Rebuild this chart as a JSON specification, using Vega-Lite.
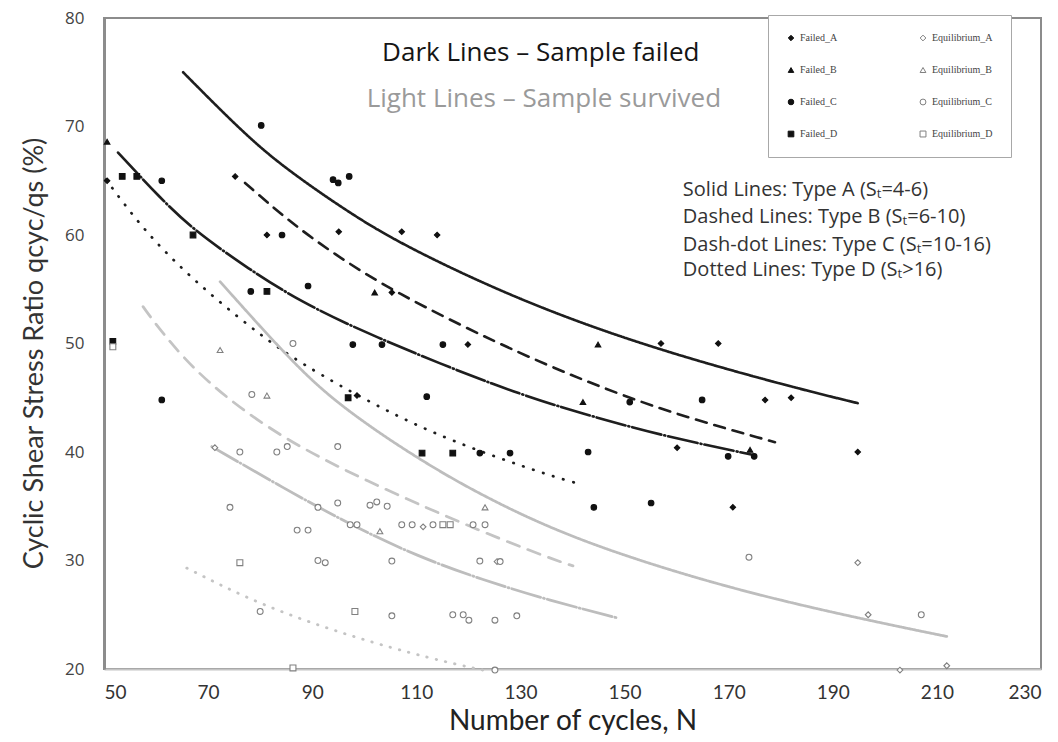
{
  "$schema": "https://vega.github.io/schema/vega-lite/v6.json",
  "autosize": "none",
  "width": 937,
  "height": 651,
  "padding": {"left": 104, "top": 18, "right": 17, "bottom": 73},
  "background": "white",
  "config": {
    "view": {"stroke": "#8c8c8c", "strokeWidth": 2},
    "axis": {"grid": false, "ticks": false, "titleFontWeight": "normal"}
  },
  "datasets": {
    "curves": [
      {"curve": "A_dark", "N": 65.2, "r": 75.0},
      {"curve": "A_dark", "N": 72.0, "r": 71.7},
      {"curve": "A_dark", "N": 80.0, "r": 68.0},
      {"curve": "A_dark", "N": 87.6, "r": 65.2},
      {"curve": "A_dark", "N": 97.3, "r": 62.0},
      {"curve": "A_dark", "N": 106.9, "r": 59.2},
      {"curve": "A_dark", "N": 126.0, "r": 54.8},
      {"curve": "A_dark", "N": 145.3, "r": 51.2},
      {"curve": "A_dark", "N": 164.5, "r": 48.3},
      {"curve": "A_dark", "N": 183.7, "r": 45.8},
      {"curve": "A_dark", "N": 194.8, "r": 44.5},
      {"curve": "B_dark", "N": 77.1, "r": 64.8},
      {"curve": "B_dark", "N": 85.2, "r": 61.4},
      {"curve": "B_dark", "N": 94.0, "r": 58.3},
      {"curve": "B_dark", "N": 105.5, "r": 54.8},
      {"curve": "B_dark", "N": 126.0, "r": 49.9},
      {"curve": "B_dark", "N": 142.0, "r": 46.6},
      {"curve": "B_dark", "N": 158.1, "r": 43.7},
      {"curve": "B_dark", "N": 178.9, "r": 40.9},
      {"curve": "C_dark", "N": 52.7, "r": 67.6},
      {"curve": "C_dark", "N": 60.8, "r": 63.4},
      {"curve": "C_dark", "N": 67.1, "r": 60.5},
      {"curve": "C_dark", "N": 78.0, "r": 56.8},
      {"curve": "C_dark", "N": 87.6, "r": 53.9},
      {"curve": "C_dark", "N": 100.5, "r": 50.9},
      {"curve": "C_dark", "N": 126.0, "r": 45.9},
      {"curve": "C_dark", "N": 142.0, "r": 43.5},
      {"curve": "C_dark", "N": 158.1, "r": 41.4},
      {"curve": "C_dark", "N": 175.0, "r": 39.7},
      {"curve": "D_dark", "N": 50.4, "r": 65.1},
      {"curve": "D_dark", "N": 56.9, "r": 60.9},
      {"curve": "D_dark", "N": 64.0, "r": 57.3},
      {"curve": "D_dark", "N": 71.7, "r": 54.0},
      {"curve": "D_dark", "N": 80.0, "r": 50.8},
      {"curve": "D_dark", "N": 87.6, "r": 48.2},
      {"curve": "D_dark", "N": 102.4, "r": 44.2},
      {"curve": "D_dark", "N": 116.5, "r": 41.0},
      {"curve": "D_dark", "N": 135.7, "r": 37.8},
      {"curve": "D_dark", "N": 141.8, "r": 37.0},
      {"curve": "B_light", "N": 57.5, "r": 53.4},
      {"curve": "B_light", "N": 60.8, "r": 51.2},
      {"curve": "B_light", "N": 69.0, "r": 46.6},
      {"curve": "B_light", "N": 84.4, "r": 41.1},
      {"curve": "B_light", "N": 103.6, "r": 36.6},
      {"curve": "B_light", "N": 122.8, "r": 32.6},
      {"curve": "B_light", "N": 135.7, "r": 30.2},
      {"curve": "B_light", "N": 140.1, "r": 29.5},
      {"curve": "A_light", "N": 72.3, "r": 55.7},
      {"curve": "A_light", "N": 85.7, "r": 48.5},
      {"curve": "A_light", "N": 94.8, "r": 44.4},
      {"curve": "A_light", "N": 110.1, "r": 39.4},
      {"curve": "A_light", "N": 124.0, "r": 35.6},
      {"curve": "A_light", "N": 142.0, "r": 31.6},
      {"curve": "A_light", "N": 170.8, "r": 27.3},
      {"curve": "A_light", "N": 196.6, "r": 24.5},
      {"curve": "A_light", "N": 211.9, "r": 23.0},
      {"curve": "C_light", "N": 70.7, "r": 40.5},
      {"curve": "C_light", "N": 84.4, "r": 36.7},
      {"curve": "C_light", "N": 97.3, "r": 33.3},
      {"curve": "C_light", "N": 110.1, "r": 30.4},
      {"curve": "C_light", "N": 122.8, "r": 28.2},
      {"curve": "C_light", "N": 135.7, "r": 26.3},
      {"curve": "C_light", "N": 148.7, "r": 24.7},
      {"curve": "D_light", "N": 65.9, "r": 29.3},
      {"curve": "D_light", "N": 80.0, "r": 25.9},
      {"curve": "D_light", "N": 97.3, "r": 23.0},
      {"curve": "D_light", "N": 113.2, "r": 20.9},
      {"curve": "D_light", "N": 122.8, "r": 19.9}
    ],
    "pts": [
      {"series": "Failed_B", "N": 50.6, "r": 68.6},
      {"series": "Failed_B", "N": 102.0, "r": 54.7},
      {"series": "Failed_B", "N": 144.9, "r": 49.9},
      {"series": "Failed_B", "N": 142.0, "r": 44.6},
      {"series": "Failed_B", "N": 174.1, "r": 40.2},
      {"series": "Failed_D", "N": 53.5, "r": 65.4},
      {"series": "Failed_D", "N": 56.3, "r": 65.4},
      {"series": "Failed_D", "N": 67.1, "r": 60.0},
      {"series": "Failed_D", "N": 81.3, "r": 54.8},
      {"series": "Failed_D", "N": 51.7, "r": 50.2},
      {"series": "Failed_D", "N": 96.9, "r": 45.0},
      {"series": "Failed_D", "N": 111.1, "r": 39.9},
      {"series": "Failed_D", "N": 117.0, "r": 39.9},
      {"series": "Failed_C", "N": 61.1, "r": 65.0},
      {"series": "Failed_C", "N": 80.2, "r": 70.1},
      {"series": "Failed_C", "N": 94.0, "r": 65.1},
      {"series": "Failed_C", "N": 95.0, "r": 64.8},
      {"series": "Failed_C", "N": 97.1, "r": 65.4},
      {"series": "Failed_C", "N": 84.2, "r": 60.0},
      {"series": "Failed_C", "N": 78.2, "r": 54.8},
      {"series": "Failed_C", "N": 89.2, "r": 55.3},
      {"series": "Failed_C", "N": 97.8, "r": 49.9},
      {"series": "Failed_C", "N": 103.4, "r": 49.9},
      {"series": "Failed_C", "N": 115.1, "r": 49.9},
      {"series": "Failed_C", "N": 61.1, "r": 44.8},
      {"series": "Failed_C", "N": 112.0, "r": 45.1},
      {"series": "Failed_C", "N": 122.2, "r": 39.9},
      {"series": "Failed_C", "N": 128.0, "r": 39.9},
      {"series": "Failed_C", "N": 143.0, "r": 40.0},
      {"series": "Failed_C", "N": 144.1, "r": 34.9},
      {"series": "Failed_C", "N": 155.1, "r": 35.3},
      {"series": "Failed_C", "N": 151.0, "r": 44.6},
      {"series": "Failed_C", "N": 164.9, "r": 44.8},
      {"series": "Failed_C", "N": 169.9, "r": 39.6},
      {"series": "Failed_C", "N": 174.9, "r": 39.6},
      {"series": "Failed_A", "N": 50.6, "r": 65.0},
      {"series": "Failed_A", "N": 75.2, "r": 65.4},
      {"series": "Failed_A", "N": 81.3, "r": 60.0},
      {"series": "Failed_A", "N": 95.1, "r": 60.3},
      {"series": "Failed_A", "N": 107.2, "r": 60.3},
      {"series": "Failed_A", "N": 114.0, "r": 60.0},
      {"series": "Failed_A", "N": 105.3, "r": 54.7},
      {"series": "Failed_A", "N": 119.9, "r": 49.9},
      {"series": "Failed_A", "N": 157.0, "r": 50.0},
      {"series": "Failed_A", "N": 168.0, "r": 50.0},
      {"series": "Failed_A", "N": 177.0, "r": 44.8},
      {"series": "Failed_A", "N": 182.0, "r": 45.0},
      {"series": "Failed_A", "N": 160.1, "r": 40.4},
      {"series": "Failed_A", "N": 194.8, "r": 40.0},
      {"series": "Failed_A", "N": 170.8, "r": 34.9},
      {"series": "Failed_A", "N": 98.6, "r": 45.2},
      {"series": "Equilibrium_A", "N": 71.3, "r": 40.4},
      {"series": "Equilibrium_A", "N": 194.8, "r": 29.8},
      {"series": "Equilibrium_A", "N": 196.8, "r": 25.0},
      {"series": "Equilibrium_A", "N": 202.9, "r": 19.9},
      {"series": "Equilibrium_A", "N": 211.9, "r": 20.3},
      {"series": "Equilibrium_A", "N": 111.3, "r": 33.1},
      {"series": "Equilibrium_A", "N": 125.5, "r": 29.9},
      {"series": "Equilibrium_B", "N": 72.3, "r": 49.4},
      {"series": "Equilibrium_B", "N": 81.3, "r": 45.2},
      {"series": "Equilibrium_B", "N": 103.0, "r": 32.7},
      {"series": "Equilibrium_B", "N": 123.2, "r": 34.9},
      {"series": "Equilibrium_C", "N": 86.3, "r": 50.0},
      {"series": "Equilibrium_C", "N": 78.4, "r": 45.3},
      {"series": "Equilibrium_C", "N": 76.1, "r": 40.0},
      {"series": "Equilibrium_C", "N": 83.2, "r": 40.0},
      {"series": "Equilibrium_C", "N": 85.2, "r": 40.5},
      {"series": "Equilibrium_C", "N": 94.9, "r": 40.5},
      {"series": "Equilibrium_C", "N": 74.2, "r": 34.9},
      {"series": "Equilibrium_C", "N": 91.1, "r": 34.9},
      {"series": "Equilibrium_C", "N": 94.9, "r": 35.3},
      {"series": "Equilibrium_C", "N": 101.1, "r": 35.1},
      {"series": "Equilibrium_C", "N": 102.4, "r": 35.4},
      {"series": "Equilibrium_C", "N": 104.4, "r": 35.0},
      {"series": "Equilibrium_C", "N": 87.1, "r": 32.8},
      {"series": "Equilibrium_C", "N": 89.2, "r": 32.8},
      {"series": "Equilibrium_C", "N": 97.3, "r": 33.3},
      {"series": "Equilibrium_C", "N": 98.6, "r": 33.3},
      {"series": "Equilibrium_C", "N": 107.2, "r": 33.3},
      {"series": "Equilibrium_C", "N": 109.2, "r": 33.3},
      {"series": "Equilibrium_C", "N": 113.2, "r": 33.3},
      {"series": "Equilibrium_C", "N": 120.9, "r": 33.3},
      {"series": "Equilibrium_C", "N": 123.2, "r": 33.3},
      {"series": "Equilibrium_C", "N": 91.1, "r": 30.0},
      {"series": "Equilibrium_C", "N": 92.5, "r": 29.8},
      {"series": "Equilibrium_C", "N": 105.3, "r": 29.95},
      {"series": "Equilibrium_C", "N": 122.2, "r": 29.95},
      {"series": "Equilibrium_C", "N": 126.1, "r": 29.9},
      {"series": "Equilibrium_C", "N": 80.0, "r": 25.3},
      {"series": "Equilibrium_C", "N": 105.3, "r": 24.9},
      {"series": "Equilibrium_C", "N": 117.0, "r": 25.0},
      {"series": "Equilibrium_C", "N": 119.0, "r": 25.0},
      {"series": "Equilibrium_C", "N": 120.1, "r": 24.5},
      {"series": "Equilibrium_C", "N": 125.1, "r": 24.5},
      {"series": "Equilibrium_C", "N": 129.3, "r": 24.9},
      {"series": "Equilibrium_C", "N": 125.1, "r": 19.9},
      {"series": "Equilibrium_C", "N": 173.9, "r": 30.3},
      {"series": "Equilibrium_C", "N": 207.0, "r": 25.0},
      {"series": "Equilibrium_D", "N": 51.7, "r": 49.7},
      {"series": "Equilibrium_D", "N": 76.1, "r": 29.8},
      {"series": "Equilibrium_D", "N": 98.2, "r": 25.3},
      {"series": "Equilibrium_D", "N": 86.3, "r": 20.1},
      {"series": "Equilibrium_D", "N": 115.1, "r": 33.3},
      {"series": "Equilibrium_D", "N": 116.5, "r": 33.3}
    ]
  },
  "layer": [
    {
      "data": {"name": "curves"},
      "mark": {"type": "line", "interpolate": "basis", "strokeCap": "round"},
      "encoding": {
        "x": {
          "field": "N", "type": "quantitative",
          "scale": {"domain": [50, 230], "nice": false, "zero": false},
          "axis": {
            "values": [50, 70, 90, 110, 130, 150, 170, 190, 210, 230],
            "title": "Number of cycles, N",
            "titleFont": "Lato", "titleFontSize": 28, "titleColor": "#222",
            "titlePadding": 5,
            "labelFont": "Lato", "labelFontSize": 19, "labelColor": "#333",
            "labelPadding": 14,
            "domainColor": "#c4c4c4", "domainWidth": 2
          }
        },
        "y": {
          "field": "r", "type": "quantitative",
          "scale": {"domain": [20, 80], "nice": false, "zero": false},
          "axis": {
            "values": [20, 30, 40, 50, 60, 70, 80],
            "title": "Cyclic  Shear Stress Ratio qcyc/qs  (%)",
            "titleFont": "Lato", "titleFontSize": 27, "titleColor": "#333",
            "titlePadding": 16, "titleY": 335,
            "labelFont": "Open Sans", "labelFontSize": 17, "labelColor": "#444",
            "labelPadding": 20,
            "domainColor": "#8c8c8c", "domainWidth": 3
          }
        },
        "detail": {"field": "curve"},
        "color": {
          "field": "curve", "type": "nominal", "legend": null,
          "scale": {
            "domain": ["A_dark", "B_dark", "C_dark", "D_dark", "A_light", "B_light", "C_light", "D_light"],
            "range": ["#1e1e1e", "#1e1e1e", "#1e1e1e", "#1e1e1e", "#bdbdbd", "#c4c4c4", "#bdbdbd", "#c4c4c4"]
          }
        },
        "strokeWidth": {
          "field": "curve", "type": "nominal", "legend": null,
          "scale": {
            "domain": ["A_dark", "B_dark", "C_dark", "D_dark", "A_light", "B_light", "C_light", "D_light"],
            "range": [2.6, 2.8, 2.6, 3.6, 2.5, 2.7, 2.5, 3.4]
          }
        },
        "strokeDash": {
          "field": "curve", "type": "nominal", "legend": null,
          "scale": {
            "domain": ["A_dark", "B_dark", "C_dark", "D_dark", "A_light", "B_light", "C_light", "D_light"],
            "range": [[1, 0], [11, 8], [30, 3, 1, 3], [0.5, 10], [1, 0], [13, 9], [30, 3, 1, 3], [0.5, 9]]
          }
        }
      }
    },
    {
      "data": {"name": "pts"},
      "mark": {"type": "point", "strokeWidth": 1.1, "opacity": 1},
      "encoding": {
        "x": {"field": "N", "type": "quantitative"},
        "y": {"field": "r", "type": "quantitative"},
        "shape": {
          "field": "series", "type": "nominal", "title": "series",
          "scale": {
            "domain": ["Failed_A", "Failed_B", "Failed_C", "Failed_D", "Equilibrium_A", "Equilibrium_B", "Equilibrium_C", "Equilibrium_D"],
            "range": ["diamond", "triangle-up", "circle", "square", "diamond", "triangle-up", "circle", "square"]
          }
        },
        "fill": {
          "field": "series", "type": "nominal", "title": "series",
          "scale": {
            "domain": ["Failed_A", "Failed_B", "Failed_C", "Failed_D", "Equilibrium_A", "Equilibrium_B", "Equilibrium_C", "Equilibrium_D"],
            "range": ["#111111", "#111111", "#111111", "#111111", "#ffffff", "#ffffff", "#ffffff", "#ffffff"]
          }
        },
        "stroke": {
          "field": "series", "type": "nominal", "title": "series",
          "scale": {
            "domain": ["Failed_A", "Failed_B", "Failed_C", "Failed_D", "Equilibrium_A", "Equilibrium_B", "Equilibrium_C", "Equilibrium_D"],
            "range": ["#111111", "#111111", "#111111", "#111111", "#808080", "#808080", "#808080", "#808080"]
          }
        },
        "size": {
          "field": "series", "type": "nominal", "title": "series",
          "scale": {
            "domain": ["Failed_A", "Failed_B", "Failed_C", "Failed_D", "Equilibrium_A", "Equilibrium_B", "Equilibrium_C", "Equilibrium_D"],
            "range": [30, 35, 55, 50, 30, 35, 40, 40]
          },
          "legend": {
            "orient": "none", "legendX": 664, "legendY": -3,
            "columns": 2, "columnPadding": 80, "rowPadding": 22,
            "padding": 18, "strokeColor": "#a8a8a8", "fillColor": "white",
            "labelFont": "Liberation Serif", "labelFontSize": 10, "labelColor": "#444",
            "symbolStrokeWidth": 1, "labelOffset": 4, "title": null
          }
        }
      }
    },
    {
      "data": {"values": [{"t": "Dark Lines – Sample failed", "N": 133.9, "r": 76.8}]},
      "mark": {"type": "text", "font": "Open Sans", "fontSize": 26, "color": "#151515", "align": "center", "baseline": "middle"},
      "encoding": {"x": {"field": "N", "type": "quantitative"}, "y": {"field": "r", "type": "quantitative"}, "text": {"field": "t"}}
    },
    {
      "data": {"values": [{"t": "Light Lines – Sample survived", "N": 134.5, "r": 72.5}]},
      "mark": {"type": "text", "font": "Open Sans", "fontSize": 26, "color": "#9a9a9a", "align": "center", "baseline": "middle"},
      "encoding": {"x": {"field": "N", "type": "quantitative"}, "y": {"field": "r", "type": "quantitative"}, "text": {"field": "t"}}
    },
    {
      "data": {"values": [
        {"t": "Solid Lines: Type A (Sₜ=4-6)", "N": 161.2, "r": 64.15},
        {"t": "Dashed Lines: Type B (Sₜ=6-10)", "N": 161.2, "r": 61.66},
        {"t": "Dash-dot Lines: Type C (Sₜ=10-16)", "N": 161.2, "r": 59.08},
        {"t": "Dotted Lines: Type D (Sₜ>16)", "N": 161.2, "r": 56.78}
      ]},
      "mark": {"type": "text", "font": "Open Sans", "fontSize": 20, "color": "#333333", "align": "left", "baseline": "middle"},
      "encoding": {"x": {"field": "N", "type": "quantitative"}, "y": {"field": "r", "type": "quantitative"}, "text": {"field": "t"}}
    }
  ]
}
